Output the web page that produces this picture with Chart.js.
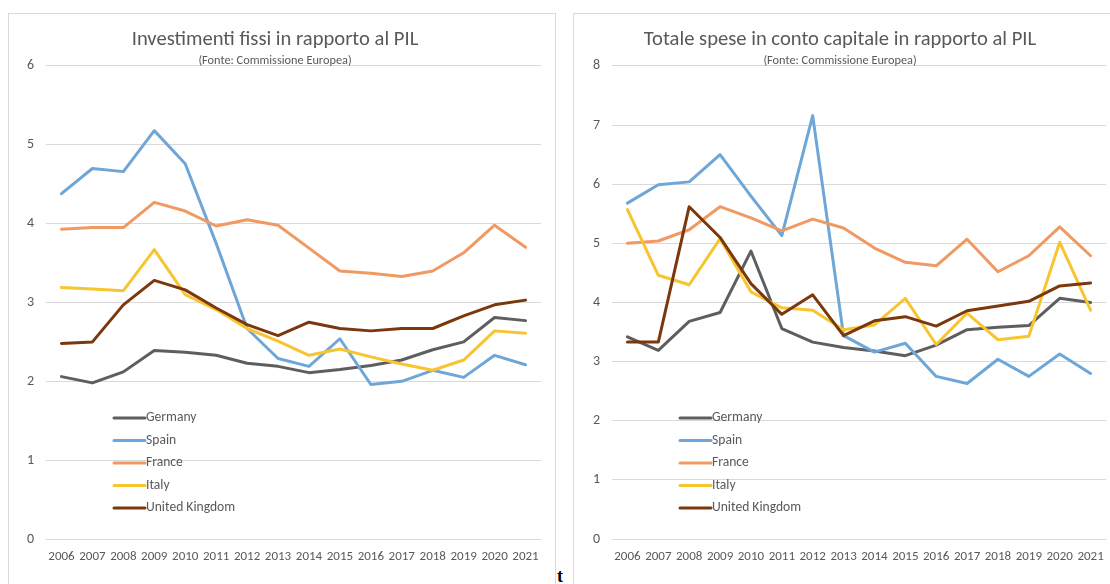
<!DOCTYPE html>
<html>
<head>
<meta charset="utf-8">
<script src="https://cdn.jsdelivr.net/npm/chart.js@4.4.0/dist/chart.umd.min.js"></script>
<style>
  html, body { margin: 0; padding: 0; background: #fff; }
  body { width: 1110px; height: 584px; overflow: hidden; position: relative; }
  .panel { position: absolute; top: 13px; width: 546px; height: 600px; border: 1px solid #d9d9d9; background: #fff; }
  #panelInv { left: 8px; }
  #panelCap { left: 573px; }
  .panel canvas { position: absolute; left: 0; top: 0; }
  #frag { position: absolute; left: 557px; top: 566px; font: bold 18px "Liberation Serif", serif; color: #000; }
</style>
</head>
<body>
<div class="panel" id="panelInv"><canvas id="chartInv" width="546" height="570"></canvas></div>
<div class="panel" id="panelCap"><canvas id="chartCap" width="546" height="570"></canvas></div>
<div id="frag">t</div>
<script>
// Years on the category axis
const years = ['2006','2007','2008','2009','2010','2011','2012','2013','2014','2015','2016','2017','2018','2019','2020','2021'];
const countries = ['Germany', 'Spain', 'France', 'Italy', 'United Kingdom'];

// Fixed investment, % of GDP
const invGermany = [2.06, 1.98, 2.12, 2.39, 2.37, 2.33, 2.23, 2.19, 2.11, 2.15, 2.20, 2.27, 2.40, 2.50, 2.81, 2.77];
const invSpain   = [4.38, 4.70, 4.66, 5.18, 4.76, 3.75, 2.67, 2.29, 2.19, 2.54, 1.96, 2.00, 2.14, 2.05, 2.33, 2.21];
const invFrance  = [3.93, 3.95, 3.95, 4.27, 4.16, 3.97, 4.05, 3.98, 3.69, 3.40, 3.37, 3.33, 3.40, 3.63, 3.98, 3.70];
const invItaly   = [3.19, 3.17, 3.15, 3.67, 3.10, 2.91, 2.67, 2.51, 2.33, 2.41, 2.31, 2.22, 2.14, 2.27, 2.64, 2.61];
const invUK      = [2.48, 2.50, 2.97, 3.28, 3.16, 2.93, 2.72, 2.58, 2.75, 2.67, 2.64, 2.67, 2.67, 2.83, 2.97, 3.03];

// Total capital expenditure, % of GDP
const capGermany = [3.42, 3.19, 3.68, 3.83, 4.87, 3.56, 3.33, 3.24, 3.18, 3.10, 3.28, 3.54, 3.58, 3.61, 4.07, 4.00];
const capSpain   = [5.68, 5.99, 6.04, 6.50, 5.80, 5.13, 7.16, 3.44, 3.16, 3.31, 2.75, 2.63, 3.04, 2.75, 3.13, 2.80];
const capFrance  = [5.00, 5.04, 5.23, 5.62, 5.43, 5.21, 5.41, 5.26, 4.92, 4.68, 4.62, 5.07, 4.52, 4.79, 5.28, 4.79];
const capItaly   = [5.57, 4.46, 4.30, 5.08, 4.18, 3.91, 3.87, 3.54, 3.62, 4.07, 3.29, 3.82, 3.37, 3.43, 5.02, 3.87];
const capUK      = [3.33, 3.33, 5.62, 5.10, 4.32, 3.80, 4.13, 3.44, 3.69, 3.76, 3.60, 3.86, 3.94, 4.02, 4.28, 4.33];

const colors = ['#5e5e5e', '#6fa6d8', '#ef9a62', '#f7c530', '#7b380c'];
const FONT = 'Carlito, Lato, "Open Sans", sans-serif';
const TEXT = '#595959';

// Legend drawn inside the plot area, lower left
const innerLegend = {
  id: 'innerLegend',
  afterDatasetsDraw(chart, args, opts) {
    const { ctx, chartArea } = chart;
    ctx.save();
    chart.data.datasets.forEach((ds, i) => {
      const y = chartArea.bottom + opts.firstRow + i * opts.rowGap;
      const x0 = chartArea.left + opts.offsetX;
      ctx.strokeStyle = ds.borderColor;
      ctx.lineWidth = 3;
      ctx.lineCap = 'round';
      ctx.beginPath();
      ctx.moveTo(x0, y);
      ctx.lineTo(x0 + opts.sampleWidth, y);
      ctx.stroke();
      ctx.fillStyle = TEXT;
      ctx.font = opts.fontSize + 'px ' + FONT;
      ctx.textBaseline = 'middle';
      ctx.textAlign = 'left';
      ctx.fillText(ds.label, x0 + opts.sampleWidth + 1, y);
    });
    ctx.restore();
  }
};

function buildDatasets(series) {
  return series.map((vals, i) => ({
    label: countries[i],
    data: vals,
    borderColor: colors[i],
    backgroundColor: colors[i],
    borderWidth: 3,
    pointRadius: 0,
    pointHoverRadius: 0,
    tension: 0,
    borderJoinStyle: 'round',
    borderCapStyle: 'round',
    fill: false,
    order: series.length - i
  }));
}

function makeChart(id, title, series, yMax, yAxisWidth) {
  return new Chart(document.getElementById(id), {
    type: 'line',
    data: { labels: years, datasets: buildDatasets(series) },
    plugins: [innerLegend],
    options: {
      responsive: false,
      animation: false,
      events: [],
      layout: { padding: { top: 0, left: 0, right: 14, bottom: 0 } },
      plugins: {
        legend: { display: false },
        tooltip: { enabled: false },
        title: {
          display: true,
          text: title,
          color: TEXT,
          font: { family: FONT, size: 20.6, weight: '300', lineHeight: 1.2 },
          padding: { top: 13.6, bottom: 0 }
        },
        subtitle: {
          display: true,
          text: '(Fonte: Commissione Europea)',
          color: TEXT,
          font: { family: FONT, size: 12.3, lineHeight: 1.2 },
          padding: { top: 1.3, bottom: -2.4 }
        },
        innerLegend: { firstRow: -121, rowGap: 22.5, offsetX: 68, sampleWidth: 31, fontSize: 13.6 }
      },
      scales: {
        x: {
          type: 'category',
          offset: true,
          grid: { display: false, drawTicks: false },
          border: { display: false },
          ticks: { autoSkip: false, maxRotation: 0, minRotation: 0, padding: 10, color: TEXT, font: { family: FONT, size: 13 } },
          afterFit(scale) { scale.height = 45; }
        },
        y: {
          min: 0,
          max: yMax,
          grid: { color: '#d9d9d9', lineWidth: 1, drawTicks: false },
          border: { display: false },
          ticks: { stepSize: 1, padding: 12, color: TEXT, font: { family: FONT, size: 14 } },
          afterFit(scale) { scale.width = yAxisWidth; }
        }
      }
    }
  });
}

makeChart('chartInv', 'Investimenti fissi in rapporto al PIL',
  [invGermany, invSpain, invFrance, invItaly, invUK], 6, 37);
makeChart('chartCap', 'Totale spese in conto capitale in rapporto al PIL',
  [capGermany, capSpain, capFrance, capItaly, capUK], 8, 38);
</script>
</body>
</html>
